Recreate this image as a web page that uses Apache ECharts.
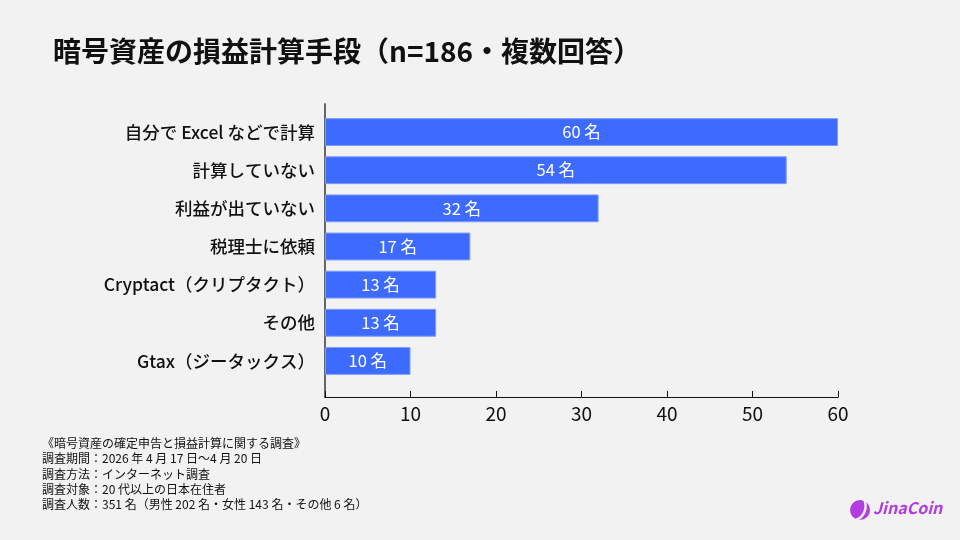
<!DOCTYPE html>
<html>
<head>
<meta charset="utf-8">
<script src="https://cdn.jsdelivr.net/npm/echarts@6/dist/echarts.min.js"></script>
<style>
html,body{margin:0;padding:0;background:#F2F2F2;}
#c{width:960px;height:540px;}
</style>
</head>
<body>
<div id="c"></div>
<script>
const categories = ['自分で Excel などで計算','計算していない','利益が出ていない','税理士に依頼','Cryptact（クリプタクト）','その他','Gtax（ジータックス）'];
const values = [60,54,32,17,13,13,10];
const unit = '名';
const xTicks = [0,10,20,30,40,50,60];
const titleText = '暗号資産の損益計算手段（n=186・複数回答）';
const notes = [
  '《暗号資産の確定申告と損益計算に関する調査》',
  '調査期間：2026 年 4 月 17 日〜4 月 20 日',
  '調査方法：インターネット調査',
  '調査対象：20 代以上の日本在住者',
  '調査人数：351 名（男性 202 名・女性 143 名・その他 6 名）'
];

const font = '"Noto Sans CJK JP", "Noto Sans", sans-serif';
const chart = echarts.init(document.getElementById('c'));
chart.setOption({
  backgroundColor: '#F2F2F2',
  animation: false,
  textStyle: {fontFamily: font},
  title: {
    text: titleText, left: 48, top: 32,
    textStyle: {fontSize: 28, fontWeight: 'bold', color: '#111', fontFamily: font}
  },
  grid: [
    {left: 325, width: 513, top: 104, height: 293, containLabel: false},
    {left: 325, width: 513, top: 113, height: 267, containLabel: false}
  ],
  xAxis: [
    {
      gridIndex: 0, type: 'value', min: xTicks[0], max: xTicks[xTicks.length-1], interval: 10,
      axisLine: {show: true, lineStyle: {color: '#111', width: 1}},
      axisTick: {show: true, inside: true, length: 6, lineStyle: {color: '#111'}},
      axisLabel: {fontSize: 19, color: '#111', margin: 7, fontFamily: font},
      splitLine: {show: false}
    },
    {
      gridIndex: 1, type: 'value', min: xTicks[0], max: xTicks[xTicks.length-1],
      show: false
    }
  ],
  yAxis: [
    {
      gridIndex: 0, type: 'value', min: 0, max: 1,
      axisLine: {show: true, lineStyle: {color: '#666', width: 2}},
      axisTick: {show: false}, axisLabel: {show: false}, splitLine: {show: false}
    },
    {
      gridIndex: 1, type: 'category', data: categories, inverse: true,
      axisLine: {show: false}, axisTick: {show: false}, splitLine: {show: false},
      axisLabel: {fontSize: 17.5, color: '#111', margin: 10, fontWeight: 500, fontFamily: font}
    }
  ],
  series: [{
    type: 'bar', xAxisIndex: 1, yAxisIndex: 1,
    data: values, barWidth: '73%',
    itemStyle: {color: '#3D6BFF', borderColor: '#7E9BFF', borderWidth: 1},
    label: {
      show: true, position: 'inside', color: '#fff', fontSize: 16.5, fontFamily: font,
      formatter: p => p.value + ' ' + unit
    }
  }],
  graphic: [
    {
      type: 'text', x: 42, y: 436,
      style: {text: notes.join('\n'), fontSize: 12, lineHeight: 15.2, fill: '#111', fontFamily: font}
    },
    {
      type: 'circle', shape: {cx: 860, cy: 510, r: 10}, style: {fill: '#B23CE0'}
    },
    {
      type: 'bezierCurve',
      shape: {x1: 864, y1: 499, x2: 856, y2: 520, cpx1: 868, cpy1: 508, cpx2: 864, cpy2: 517},
      style: {stroke: '#F2F2F2', lineWidth: 2.5, fill: null}
    },
    {
      type: 'text', x: 873, y: 500,
      style: {text: 'JinaCoin', fontSize: 16, fontWeight: 'bold', fontStyle: 'italic', fill: '#B23CE0', fontFamily: font}
    }
  ]
});
</script>
</body>
</html>
